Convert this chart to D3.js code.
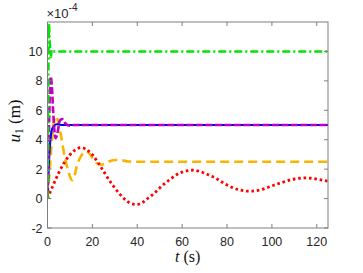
<!DOCTYPE html>
<html><head><meta charset="utf-8">
<script src="https://cdn.jsdelivr.net/npm/d3@7"></script>
<style>body{margin:0;background:#fff}svg{display:block}</style>
</head><body>
<script>
const xTicks = [0,20,40,60,80,100,120];
const yTicks = [-2,0,2,4,6,8,10];

const redT = [0,2.5,5,7.5,10,12.5,15,17.5,20,22.5,25,27.5,30,32.5,35,37.5,40,42.5,45,47.5,50,52.5,55,57.5,60,62.5,65,67.5,70,72.5,75,77.5,80,82.5,85,87.5,90,92.5,95,97.5,100,102.5,105,107.5,110,112.5,115,117.5,120,122.5,125];
const redV = [0,0.9,1.75,2.45,2.98,3.32,3.46,3.32,2.98,2.45,1.85,1.25,0.72,0.25,-0.12,-0.35,-0.4,-0.25,0.05,0.35,0.72,1.05,1.35,1.62,1.8,1.9,1.93,1.86,1.73,1.56,1.38,1.14,0.92,0.74,0.61,0.53,0.5,0.53,0.6,0.72,0.86,1.0,1.12,1.24,1.33,1.38,1.4,1.38,1.32,1.25,1.17];

const yelT = [0,1,2,3,4,5,6,7,8,9,10,11,12,13,14,15,16,17,18,19,20,22,24,26,28,30,33,36,40,60,80,100,125];
const yelV = [0.1,2.0,4.0,5.3,5.6,5.0,4.3,3.4,2.6,2.0,1.5,1.25,1.5,2.2,2.6,2.9,3.1,3.2,3.15,3.0,2.75,2.4,2.3,2.4,2.55,2.62,2.6,2.52,2.5,2.5,2.5,2.5,2.5];

const bluT = [0,0.5,1,1.5,2,3,4,5,6,10,30,60,90,125];
const bluV = [0,2.0,3.5,4.3,4.7,4.95,5.05,5.05,5.0,5.0,5.0,5.0,5.0,5.0];

const magT = [0,0.5,1,1.4,2,2.5,3,3.6,4.5,5.5,6.5,8,10,12,30,60,90,125];
const magV = [0,3.5,7.0,8.3,7.5,6.0,4.8,4.1,4.5,5.3,5.4,5.1,4.95,5.0,5.0,5.0,5.0,5.0];

const grnT = [0,0.3,0.6,0.9,1.2,1.5,1.8,2.2,5,30,60,90,125];
const grnV = [0,6,11.9,11,10,9.6,10.1,10,10,10,10,10,10];

const W = 363, H = 273;
const m = {l:47.5, r:35, t:22, b:45};
const svg = d3.select("body").append("svg").attr("width",W).attr("height",H);
const x = d3.scaleLinear().domain([0,125]).range([m.l, W-m.r]);
const y = d3.scaleLinear().domain([-2,12]).range([H-m.b, m.t]);

svg.append("clipPath").attr("id","c").append("rect")
  .attr("x",x(0)).attr("y",y(12)).attr("width",x(125)-x(0)).attr("height",y(-2)-y(12));

const g = svg.append("g").attr("clip-path","url(#c)");
const line = d3.line().x(d=>x(d[0])).y(d=>y(d[1])).curve(d3.curveMonotoneX);
function draw(T,V,col,w,dash,cap){
  g.append("path").datum(T.map((t,i)=>[t,V[i]]))
   .attr("d",line).attr("fill","none").attr("stroke",col)
   .attr("stroke-width",w).attr("stroke-dasharray",dash||null)
   .attr("stroke-linecap",cap||"butt");
}
draw(yelT,yelV,"#f7b500",2.6,"9,5");
draw(redT,redV,"#ff0000",2.8,"2.6,2.8");
draw(bluT,bluV,"#0000ff",2.2,null);
draw(magT,magV,"#bf00bf",2.6,"7,2.5");
draw(grnT,grnV,"#00e600",2.6,"8,3,2,3");

const ax = "#7f7f7f", tl = 4;
const fr = svg.append("g").attr("stroke",ax).attr("stroke-width",1).attr("fill","none");
fr.append("rect").attr("x",x(0)).attr("y",y(12)).attr("width",x(125)-x(0)).attr("height",y(-2)-y(12));
xTicks.forEach(v=>{
  fr.append("line").attr("x1",x(v)).attr("x2",x(v)).attr("y1",y(-2)).attr("y2",y(-2)-tl);
  fr.append("line").attr("x1",x(v)).attr("x2",x(v)).attr("y1",y(12)).attr("y2",y(12)+tl);
});
yTicks.forEach(v=>{
  fr.append("line").attr("x1",x(0)).attr("x2",x(0)+tl).attr("y1",y(v)).attr("y2",y(v));
  fr.append("line").attr("x1",x(125)).attr("x2",x(125)-tl).attr("y1",y(v)).attr("y2",y(v));
});
const tf = "Liberation Sans, Arial, sans-serif";
svg.append("g").selectAll("text").data(xTicks).join("text")
  .attr("x",d=>x(d)).attr("y",y(-2)+18).attr("text-anchor","middle")
  .attr("font-family",tf).attr("font-size",12.5).attr("fill","#262626").text(d=>d);
svg.append("g").selectAll("text").data(yTicks).join("text")
  .attr("x",x(0)-5).attr("y",d=>y(d)+4.5).attr("text-anchor","end")
  .attr("font-family",tf).attr("font-size",12.5).attr("fill","#262626").text(d=>d);
const ex = svg.append("text").attr("x",x(0)-1).attr("y",18)
  .attr("font-family",tf).attr("font-size",13).attr("fill","#262626");
ex.append("tspan").text("×10");
ex.append("tspan").attr("dy",-7).attr("font-size",10).text("-4");

const sf = "Liberation Serif, DejaVu Serif, serif";
const xl = svg.append("text").attr("x",(x(0)+x(125))/2).attr("y",262)
  .attr("text-anchor","middle").attr("font-family",sf).attr("font-size",16).attr("fill","#111");
xl.append("tspan").attr("font-style","italic").text("t");
xl.append("tspan").text(" (s)");
const yl = svg.append("text").attr("transform","translate(20,121) rotate(-90)")
  .attr("text-anchor","middle").attr("font-family",sf).attr("font-size",17).attr("fill","#111");
yl.append("tspan").attr("font-style","italic").text("u");
yl.append("tspan").attr("font-size",11.5).attr("dy",3).text("1");
yl.append("tspan").attr("dy",-3).text(" (m)");
</script>
</body></html>
